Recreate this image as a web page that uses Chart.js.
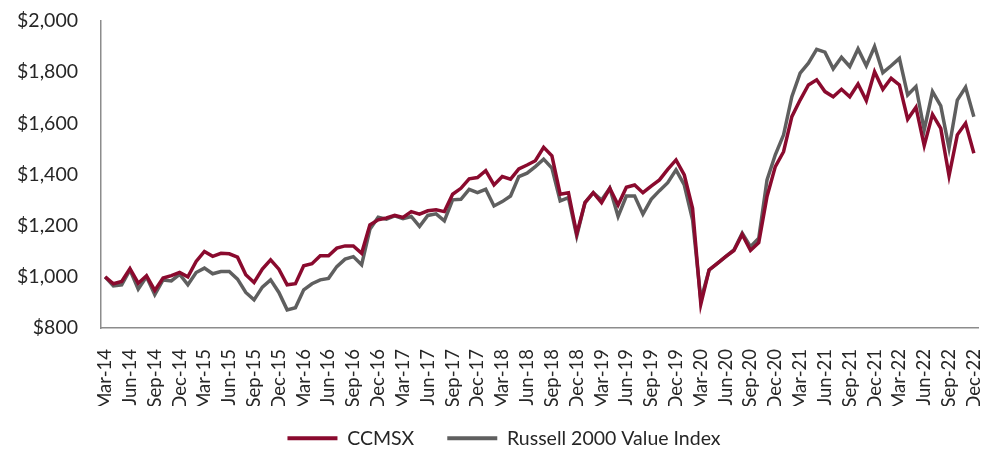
<!DOCTYPE html>
<html>
<head>
<meta charset="utf-8">
<script src="https://cdn.jsdelivr.net/npm/chart.js@4/dist/chart.umd.min.js"></script>
<style>
  html, body { margin: 0; padding: 0; background: #fff; }
  #wrap { width: 981px; height: 449px; position: relative; }
</style>
</head>
<body>
<div id="wrap"><canvas id="c"></canvas></div>
<script>
'use strict';

// Growth of $1,000: CCMSX vs Russell 2000 Value Index, monthly Mar-14 .. Dec-22
const MONTH_NAMES = ['Jan','Feb','Mar','Apr','May','Jun','Jul','Aug','Sep','Oct','Nov','Dec'];
const START_YEAR = 2014, START_MONTH = 2;   // Mar-14
const N_MONTHS = 106;                       // through Dec-22

const ccmsx = [
  1000,  973,  982, 1032,  975, 1004,  947,  995, 1005, 1017,
  1000, 1060, 1099, 1080, 1092, 1090, 1077, 1008,  978, 1030,
  1066, 1030,  969,  973, 1043, 1051, 1082, 1082, 1112, 1121,
  1121, 1092, 1203, 1223, 1230, 1240, 1232, 1255, 1245, 1258,
  1262, 1255, 1323, 1346, 1383, 1388, 1415, 1359, 1392, 1382,
  1422, 1437, 1454, 1506, 1473, 1323, 1329, 1168, 1290, 1329,
  1290, 1346, 1281, 1350, 1359, 1329, 1355, 1379, 1420, 1457,
  1398, 1268,  893, 1027, 1053, 1079, 1103, 1166, 1103, 1134,
  1314, 1431, 1489, 1626, 1691, 1750, 1770, 1724, 1704, 1733,
  1704, 1754, 1689, 1802, 1733, 1776, 1750, 1616, 1663, 1513,
  1635, 1580, 1395, 1555, 1600, 1483,
];

const russell2000v = [
  1000,  965,  969, 1027,  952, 1000,  930,  988,  984, 1010,
   969, 1017, 1034, 1012, 1021, 1021,  991,  939,  910,  960,
   988,  939,  871,  879,  949,  973,  988,  994, 1040, 1069,
  1079, 1047, 1186, 1233, 1225, 1238, 1227, 1236, 1197, 1240,
  1246, 1219, 1301, 1303, 1342, 1329, 1342, 1277, 1294, 1316,
  1392, 1405, 1431, 1460, 1425, 1297, 1310, 1160, 1290, 1329,
  1300, 1346, 1236, 1316, 1316, 1245, 1303, 1337, 1368, 1418,
  1359, 1223,  910, 1027, 1053, 1079, 1105, 1171, 1118, 1151,
  1379, 1477, 1555, 1704, 1796, 1835, 1889, 1878, 1813, 1858,
  1822, 1891, 1825, 1900, 1798, 1825, 1854, 1711, 1744, 1574,
  1724, 1668, 1503, 1691, 1741, 1626,
];

const Y_MIN = 800, Y_MAX = 2000, Y_STEP = 200;
const TICK_EVERY = 3;   // quarterly labels

const RED  = '#8a0a2e';
const GRAY = '#5f5f5f';
const TEXT = '#262626';
const AXIS = '#8c8c8c';
const FONT = 'Lato, "Open Sans", sans-serif';
const FONT_SIZE = 19.5;

const months = [];
for (let i = 0; i < N_MONTHS; i++) {
  const m = (START_MONTH + i) % 12;
  const y = START_YEAR + Math.floor((START_MONTH + i) / 12);
  months.push(MONTH_NAMES[m] + '-' + String(y).slice(2));
}

// nudge the legend row after layout (Chart.js ties its height to item spacing)
const legendNudge = {
  id: 'legendNudge',
  afterLayout(chart, args, opts) {
    const lg = chart.legend;
    if (!lg) return;
    lg.left += opts.dx; lg.right += opts.dx;
    lg.top += opts.dy;  lg.bottom += opts.dy;
  },
};

const ctx = document.getElementById('c').getContext('2d');
new Chart(ctx, {
  type: 'line',
  data: {
    labels: months,
    datasets: [
      {label: 'CCMSX', data: ccmsx, borderColor: RED, backgroundColor: RED,
       borderWidth: 3.5, pointRadius: 0, tension: 0},
      {label: 'Russell 2000 Value Index', data: russell2000v, borderColor: GRAY, backgroundColor: GRAY,
       borderWidth: 3.5, pointRadius: 0, tension: 0},
    ],
  },
  plugins: [legendNudge],
  options: {
    responsive: true,
    maintainAspectRatio: false,
    animation: false,
    layout: {padding: {top: 21, right: 3, left: 0, bottom: -19.5}},
    plugins: {
      tooltip: {enabled: false},
      legendNudge: {dx: 15, dy: -10.5},
      legend: {
        position: 'bottom',
        labels: {
          color: TEXT, font: {family: FONT, size: FONT_SIZE},
          boxWidth: 50, boxHeight: 4, padding: 33,
          generateLabels: chart => Chart.defaults.plugins.legend.labels.generateLabels(chart)
            .map(l => Object.assign(l, {lineWidth: 0})),
        },
      },
    },
    scales: {
      x: {
        offset: true,
        grid: {display: false},
        border: {display: true, color: AXIS, width: 1.5},
        ticks: {
          color: TEXT, font: {family: FONT, size: 18.5},
          autoSkip: false, maxRotation: 90, minRotation: 90, padding: 13,
          callback: (v, i) => i % TICK_EVERY === 0 ? months[i] : null,
        },
        afterFit: s => {
          s.height = 78;
          s.paddingLeft = s.paddingRight = s.paddingTop = s.paddingBottom = 0;
        },
      },
      y: {
        min: Y_MIN, max: Y_MAX,
        grid: {display: false},
        border: {display: true, color: AXIS, width: 1.5},
        ticks: {
          stepSize: Y_STEP, color: TEXT, font: {family: FONT, size: FONT_SIZE}, padding: 15,
          callback: v => '$' + v.toLocaleString('en-US'),
        },
        afterFit: s => {
          s.width = 101;
          s.paddingLeft = s.paddingRight = s.paddingTop = s.paddingBottom = 0;
        },
      },
    },
  },
});
</script>
</body>
</html>
